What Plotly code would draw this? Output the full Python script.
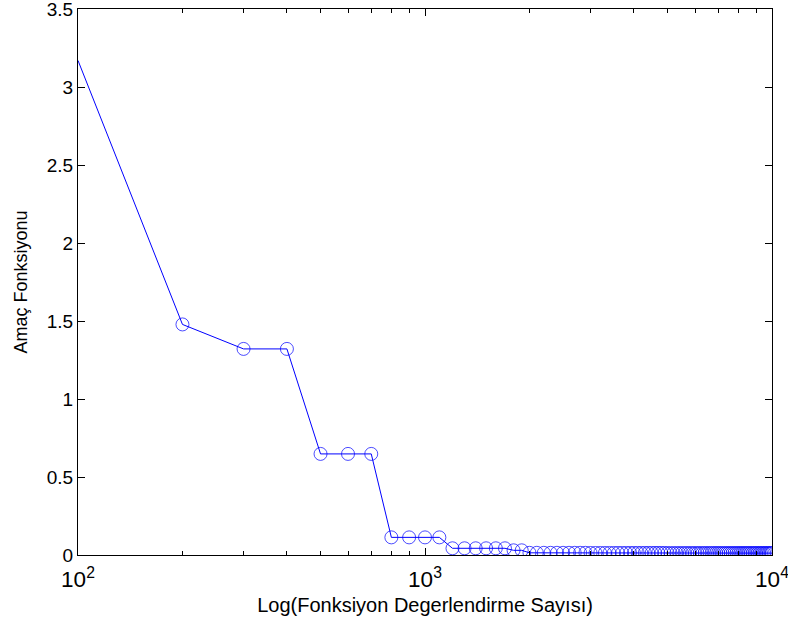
import plotly.graph_objects as go

# Number of function evaluations (x) and objective value (y)
evaluations = list(range(100, 10001, 100))

objective = [
    3.17, 1.478, 1.321, 1.321, 0.648, 0.648, 0.648, 0.113, 0.113, 0.113,
    0.113, 0.043, 0.043, 0.043, 0.043, 0.043, 0.043, 0.030, 0.030, 0.014,
    0.014, 0.014, 0.014, 0.014, 0.014, 0.014, 0.014, 0.014, 0.014, 0.013,
    0.013, 0.013, 0.013, 0.013, 0.013, 0.013, 0.013, 0.013, 0.013, 0.013,
    0.013, 0.013, 0.013, 0.013, 0.013, 0.013, 0.013, 0.013, 0.013, 0.012,
    0.012, 0.012, 0.012, 0.012, 0.012, 0.012, 0.012, 0.012, 0.012, 0.012,
    0.012, 0.012, 0.012, 0.012, 0.012, 0.012, 0.012, 0.012, 0.012, 0.012,
    0.012, 0.012, 0.012, 0.012, 0.012, 0.012, 0.012, 0.012, 0.012, 0.012,
    0.012, 0.012, 0.012, 0.012, 0.012, 0.012, 0.012, 0.012, 0.012, 0.012,
    0.012, 0.012, 0.012, 0.012, 0.012, 0.012, 0.012, 0.012, 0.012, 0.012,
]

x_title = "Log(Fonksiyon Degerlendirme Sayısı)"
y_title = "Amaç Fonksiyonu"

BLUE = "rgb(0,0,255)"
FONT = "Liberation Sans, Arial, Helvetica, sans-serif"

# first sample is drawn without a marker
marker_sizes = [0] + [13] * (len(evaluations) - 1)

fig = go.Figure()
fig.add_trace(go.Scatter(
    x=evaluations, y=objective,
    mode="lines+markers",
    line=dict(color=BLUE, width=1),
    marker=dict(symbol="circle-open", size=marker_sizes, color=BLUE,
                line=dict(color=BLUE, width=1)),
    showlegend=False,
))

axis_common = dict(
    showline=True, linecolor="black", linewidth=1, mirror="ticks",
    ticks="inside", ticklen=7, tickwidth=1, tickcolor="black",
    showgrid=False, zeroline=False, automargin=False,
    ticklabeloverflow="allow",
)

fig.update_xaxes(
    type="log", range=[2, 4], dtick=1, exponentformat="power",
    ticklabelstandoff=5,
    tickfont=dict(family=FONT, size=18, color="black"),
    minor=dict(ticks="inside", ticklen=4, tickcolor="black", showgrid=False),
    title=dict(text=x_title, font=dict(family=FONT, size=20, color="black"),
               standoff=6),
    **axis_common,
)
fig.update_yaxes(
    range=[0, 3.5], dtick=0.5,
    tickfont=dict(family=FONT, size=19, color="black"),
    title=dict(text=y_title, font=dict(family=FONT, size=18, color="black"),
               standoff=14),
    **axis_common,
)

fig.update_layout(
    width=788, height=626,
    margin=dict(l=78, r=16, t=9, b=71),
    paper_bgcolor="white", plot_bgcolor="white",
    font=dict(family=FONT, color="black"),
)

fig.write_html("out.html")
